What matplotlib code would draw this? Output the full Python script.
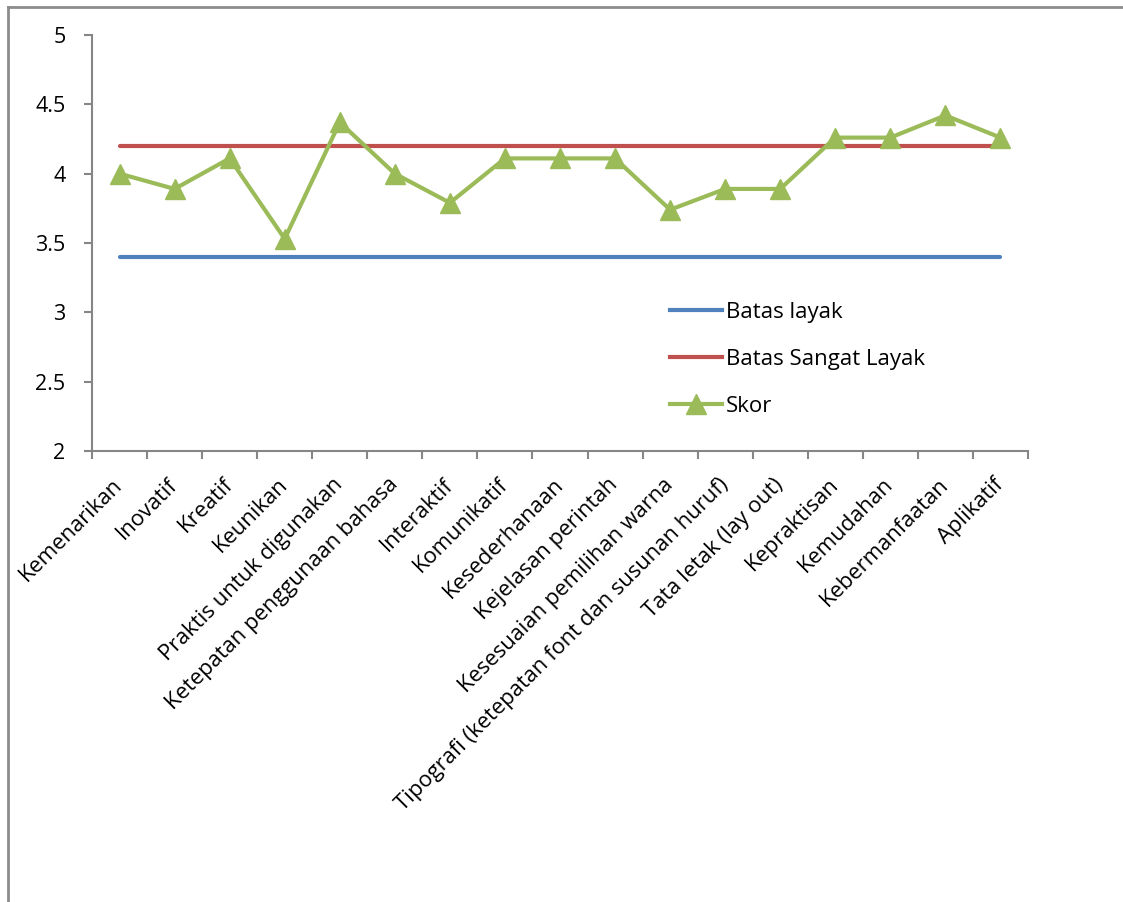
import matplotlib.pyplot as plt
from matplotlib.lines import Line2D

plt.rcParams['font.family'] = ['Open Sans', 'DejaVu Sans']

kategori = ['Kemenarikan', 'Inovatif', 'Kreatif', 'Keunikan', 'Praktis untuk digunakan',
            'Ketepatan penggunaan bahasa', 'Interaktif', 'Komunikatif', 'Kesederhanaan',
            'Kejelasan perintah', 'Kesesuaian pemilihan warna',
            'Tipografi (ketepatan font dan susunan huruf)', 'Tata letak (lay out)',
            'Kepraktisan', 'Kemudahan', 'Kebermanfaatan', 'Aplikatif']
batas_layak = [3.4] * len(kategori)
batas_sangat_layak = [4.2] * len(kategori)
skor = [4.0, 3.89, 4.11, 3.53, 4.37, 4.0, 3.79, 4.11, 4.11, 4.11,
        3.74, 3.89, 3.89, 4.26, 4.26, 4.42, 4.26]
y_ticks = [2, 2.5, 3, 3.5, 4, 4.5, 5]

fig = plt.figure(figsize=(11.23, 9.02), dpi=100)
ax = fig.add_axes([92 / 1123, 0.5, (1028 - 92) / 1123, (451 - 35) / 902])

x = list(range(len(kategori)))
ax.plot(x, batas_layak, color='#4F81BD', lw=3, solid_capstyle='round', label='Batas layak')
ax.plot(x, batas_sangat_layak, color='#C0504D', lw=3, solid_capstyle='round', label='Batas Sangat Layak')
ax.plot(x, skor, color='#9BBB59', lw=3, marker='^', markersize=14, label='Skor')

ax.set_xlim(-0.5, len(kategori) - 0.5)
ax.set_ylim(2, 5)
ax.set_yticks(y_ticks)
ax.set_yticklabels([f'{v:g}' for v in y_ticks], fontsize=15.5)

# category labels at centers, tick marks on the boundaries
ax.set_xticks(x)
ax.set_xticklabels(kategori, rotation=45, ha='right', va='center',
                   rotation_mode='anchor', fontsize=15.8)
ax.tick_params(axis='x', which='major', length=0, pad=22)
ax.set_xticks([i - 0.5 for i in range(len(kategori) + 1)], minor=True)
ax.tick_params(axis='x', which='minor', length=6, color='#868686', width=1.5, direction='out')
ax.tick_params(axis='y', length=6, color='#868686', width=1.5, direction='out', pad=13)

for s in ['top', 'right']:
    ax.spines[s].set_visible(False)
for s in ['left', 'bottom']:
    ax.spines[s].set_color('#868686')
    ax.spines[s].set_linewidth(1.5)

handles = [Line2D([], [], color='#4F81BD', lw=3),
           Line2D([], [], color='#C0504D', lw=3),
           Line2D([], [], color='#9BBB59', lw=3, marker='^', markersize=14)]
ax.legend(handles, ['Batas layak', 'Batas Sangat Layak', 'Skor'], loc='upper left',
          bbox_to_anchor=(0.5957, 0.407), frameon=False, fontsize=16,
          handlelength=2.35, handletextpad=0.2, labelspacing=1.18)

# outer chart frame (left and top edges)
fig.add_artist(Line2D([7.5 / 1123, 7.5 / 1123], [0, 1 - 6.5 / 902], color='#8C8C8C', lw=2))
fig.add_artist(Line2D([7.5 / 1123, 1], [1 - 6.5 / 902, 1 - 6.5 / 902], color='#8C8C8C', lw=2))

fig.savefig('out.png', dpi=100, facecolor='white')
